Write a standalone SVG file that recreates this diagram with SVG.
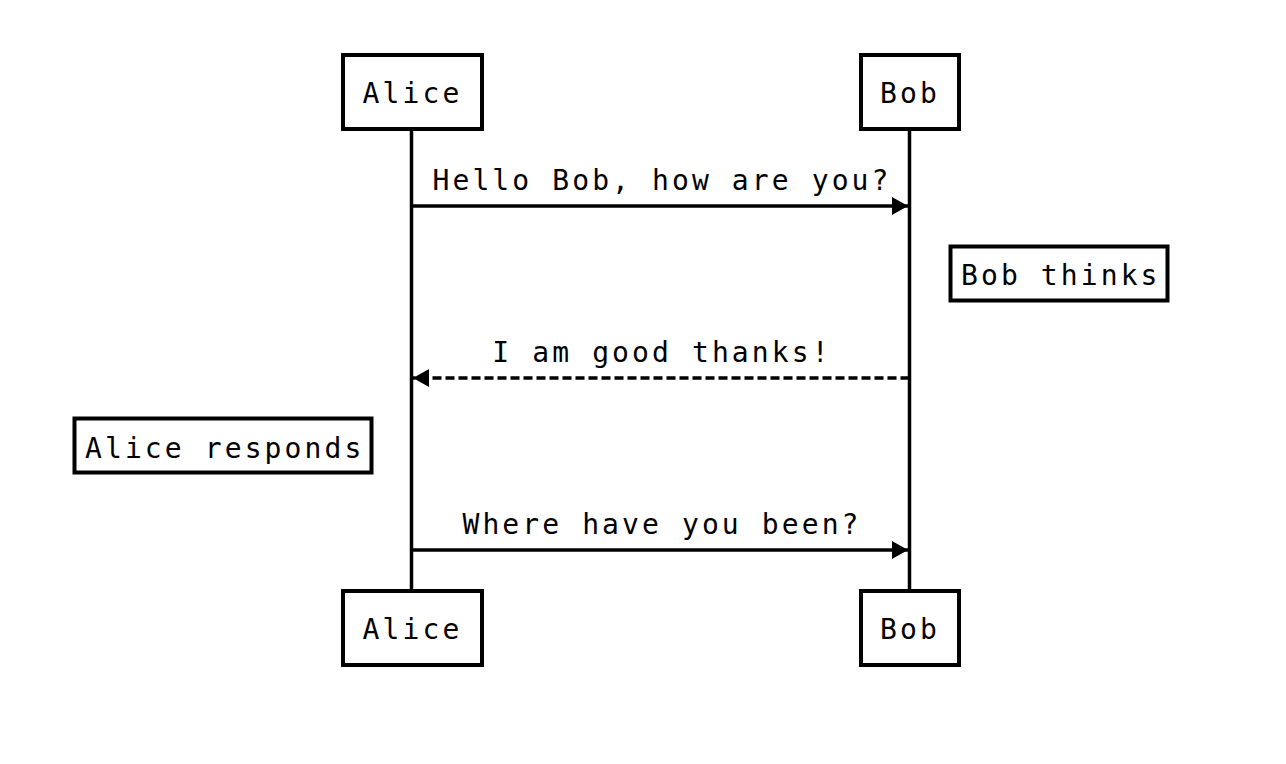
<svg xmlns="http://www.w3.org/2000/svg" width="1286" height="764" viewBox="0 0 1286 764">
<style>
.box{fill:#fff;stroke:#000;stroke-width:4}
.life{stroke:#000;stroke-width:3.5}
.msg{stroke:#000;stroke-width:3.5;fill:none}
.dash{stroke-dasharray:9 4}
text{font-family:"DejaVu Sans Mono","Liberation Mono",monospace;font-size:28px;letter-spacing:3.1px;fill:#000}
.c{text-anchor:middle}
</style>
<defs>
<marker id="ah" viewBox="0 0 16 18" refX="16" refY="9" markerWidth="16" markerHeight="18" markerUnits="userSpaceOnUse" orient="auto">
<path d="M0,0 L16,9 L0,18 Z" fill="#000"/>
</marker>
</defs>
<rect width="1286" height="764" fill="#fff"/>
<g id="lifelines">
<line class="life" x1="411.5" y1="130" x2="411.5" y2="590"/>
<line class="life" x1="909.5" y1="130" x2="909.5" y2="590"/>
</g>
<g id="connectors">
<line class="msg" x1="411.5" y1="206" x2="908" y2="206" marker-end="url(#ah)"/>
<text class="c" x="662" y="190">Hello Bob, how are you?</text>
<line class="msg dash" x1="909.5" y1="378" x2="413" y2="378" marker-end="url(#ah)"/>
<text class="c" x="662" y="362">I am good thanks!</text>
<line class="msg" x1="411.5" y1="550" x2="908" y2="550" marker-end="url(#ah)"/>
<text class="c" x="662" y="534">Where have you been?</text>
</g>
<g id="alice-top"><rect class="box" x="343" y="55" width="139" height="74"/><text class="c" x="412.5" y="103">Alice</text></g>
<g id="bob-top"><rect class="box" x="861" y="55" width="98" height="74"/><text class="c" x="910" y="103">Bob</text></g>
<g id="note-bob"><rect class="box" x="950.5" y="246.5" width="217" height="54"/><text x="961" y="285">Bob thinks</text></g>
<g id="note-alice"><rect class="box" x="74.5" y="418.5" width="297" height="54"/><text x="85" y="458">Alice responds</text></g>
<g id="alice-bottom"><rect class="box" x="343" y="591" width="139" height="74"/><text class="c" x="412.5" y="639">Alice</text></g>
<g id="bob-bottom"><rect class="box" x="861" y="591" width="98" height="74"/><text class="c" x="910" y="639">Bob</text></g>
</svg>
